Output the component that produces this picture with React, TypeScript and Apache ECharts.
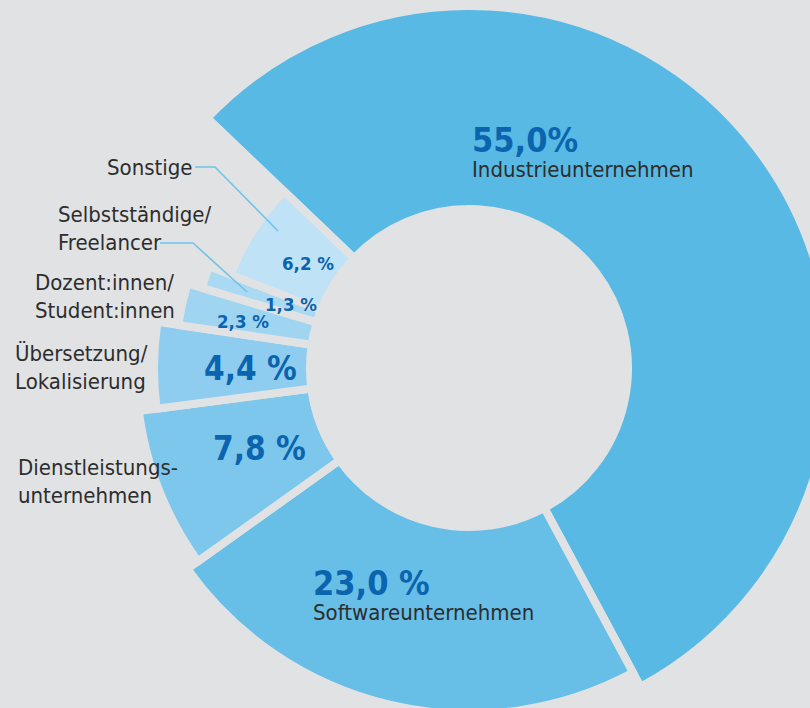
import React, { useEffect, useRef } from 'react';
import * as echarts from 'echarts';

// ---------- data ----------
const categories = [
  'Industrieunternehmen',
  'Softwareunternehmen',
  'Dienstleistungsunternehmen',
  'Übersetzung/Lokalisierung',
  'Dozent:innen/Student:innen',
  'Selbstständige/Freelancer',
  'Sonstige',
];
const nameLabels = [
  'Industrieunternehmen',
  'Softwareunternehmen',
  'Dienstleistungs-\nunternehmen',
  'Übersetzung/\nLokalisierung',
  'Dozent:innen/\nStudent:innen',
  'Selbstständige/\nFreelancer',
  'Sonstige',
];
const shares = [55.0, 23.0, 7.8, 4.4, 2.3, 1.3, 6.2];
const percentSeparator = ['', ' ', ' ', ' ', ' ', ' ', ' '];

// ---------- styles / layout ----------
const BG = '#e1e2e4';
const colors = ['#57b9e4', '#67bee7', '#7dc6ec', '#8ecdf0', '#a0d5f2', '#a9d9f3', '#bfe2f6'];
const outerRadii = [362, 346, 333, 315, 294, 279, 256];
const INNER = 159;
const CENTER = [469, 368];
const START = 136.3;
const GAP = 8;
const FONT = '"Liberation Sans Narrow", "DejaVu Sans Condensed", "Open Sans", sans-serif';
const PCT_COLOR = '#0a64ae';
const NAME_COLOR = '#2d2d2d';
const LINE_COLOR = '#6ec3ea';

const pctPos: number[][] = [[472, 124], [313, 567], [213, 431], [204, 351], [217, 311], [265, 294], [282, 253]];
const pctStyle = ['big', 'big', 'mid', 'mid', 'small', 'small', 'small'];
const namePos: (number[] | null)[] = [null, null, [18, 453], [15, 339], [35, 268], [58, 200], [107, 153]];
const leaderPoints: number[][][] = [
  [[160, 243], [193, 243], [247, 292]],
  [[195, 167], [215, 167], [278, 231]],
];

const fmtPct = (i: number) => `${shares[i].toFixed(1).replace('.', ',')}${percentSeparator[i]}%`;

const rich = {
  big: { fontFamily: FONT, fontSize: 34, fontWeight: 'bold', color: PCT_COLOR, lineHeight: 31 },
  mid: { fontFamily: FONT, fontSize: 33, fontWeight: 'bold', color: PCT_COLOR, lineHeight: 34 },
  small: { fontFamily: FONT, fontSize: 18.5, fontWeight: 'bold', color: PCT_COLOR, lineHeight: 20 },
  n: { fontFamily: FONT, fontSize: 22, color: NAME_COLOR, lineHeight: 28 },
};

export default function App() {
  const ref = useRef<HTMLDivElement>(null);
  useEffect(() => {
    if (!ref.current) return;
    const chart = echarts.init(ref.current, undefined, { renderer: 'svg' });

    const sliceSeries = shares.map((_, k) => ({
      type: 'pie',
      silent: true,
      center: CENTER,
      radius: [INNER, outerRadii[k]],
      startAngle: START,
      clockwise: true,
      avoidLabelOverlap: false,
      emphasis: { disabled: true },
      labelLine: { show: false },
      data: shares.map((v, i) => ({
        value: v,
        name: categories[i],
        itemStyle:
          i === k
            ? { color: colors[i], borderColor: BG, borderWidth: GAP }
            : { color: 'rgba(0,0,0,0)', borderWidth: 0 },
        label:
          i === k
            ? {
                show: true,
                position: 'inside',
                formatter: () =>
                  i < 2
                    ? `{${pctStyle[i]}|${fmtPct(i)}}\n{n|${nameLabels[i]}}`
                    : `{${pctStyle[i]}|${fmtPct(i)}}`,
                rich,
              }
            : { show: false },
      })),
      labelLayout: (p: any) => ({
        x: pctPos[p.dataIndex][0],
        y: pctPos[p.dataIndex][1],
        align: 'left',
        verticalAlign: 'top',
      }),
    }));

    const nameSeries = {
      type: 'pie',
      silent: true,
      center: CENTER,
      radius: [INNER, 250],
      startAngle: START,
      clockwise: true,
      avoidLabelOverlap: false,
      emphasis: { disabled: true },
      itemStyle: { color: 'rgba(0,0,0,0)', borderWidth: 0 },
      label: {
        position: 'outside',
        formatter: (p: any) => nameLabels[p.dataIndex],
        fontFamily: FONT,
        fontSize: 22,
        lineHeight: 28,
        color: NAME_COLOR,
        align: 'left',
      },
      labelLine: { show: false },
      data: shares.map((v, i) => ({
        value: v,
        name: categories[i],
        label: { show: namePos[i] !== null },
      })),
      labelLayout: (p: any) => {
        const pos = namePos[p.dataIndex];
        if (!pos) return {};
        return { x: pos[0], y: pos[1], align: 'left', verticalAlign: 'top' };
      },
    };

    chart.setOption({
      animation: false,
      backgroundColor: BG,
      series: [...sliceSeries, nameSeries],
      graphic: leaderPoints.map((pts) => ({
        type: 'polyline',
        silent: true,
        z: 100,
        shape: { points: pts },
        style: { stroke: LINE_COLOR, lineWidth: 1.6, fill: null },
      })),
    });
    return () => chart.dispose();
  }, []);
  return (
    <div
      ref={ref}
      style={{ position: 'fixed', left: 0, top: 0, width: 810, height: 708, background: BG }}
    />
  );
}
